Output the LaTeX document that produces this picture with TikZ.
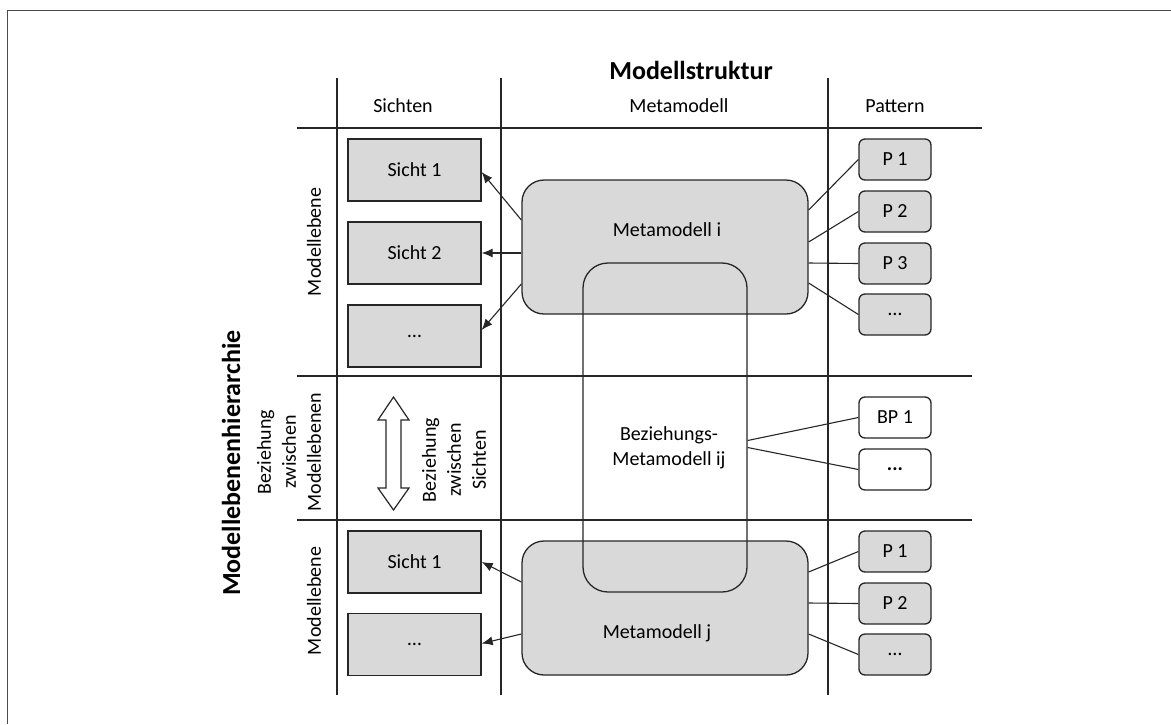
\documentclass[tikz,border=0pt]{standalone}
\usepackage{fontspec}
\setmainfont{Carlito}
\usetikzlibrary{arrows.meta,calc}
\definecolor{boxgray}{HTML}{D9D9D9}
\definecolor{edge}{HTML}{262626}
\begin{document}
\begin{tikzpicture}[x=1pt,y=-1pt,
  every node/.style={font=\fontsize{20}{25}\selectfont, inner sep=0pt, text=black},
  gridline/.style={draw=edge, line width=1.2pt},
  sicht/.style={draw=edge, fill=boxgray, line width=1.3pt, minimum width=133pt, minimum height=62pt},
  pat/.style={draw=edge, fill=boxgray, line width=1.3pt, rounded corners=6pt, minimum width=72pt, minimum height=41pt},
  bpat/.style={pat, fill=white},
  meta/.style={draw=edge, fill=boxgray, line width=1.3pt, rounded corners=22pt, minimum width=286pt, minimum height=134pt},
  conn/.style={draw=edge, line width=1.1pt},
  arr/.style={conn, -{Latex[length=11pt,width=9pt]}},
  boldlabel/.style={font=\fontsize{26}{30}\selectfont\bfseries}
]
\useasboundingbox (0,0) rectangle (1171,724);
\draw[line width=1pt, draw=black!70] (7,724) -- (7,10) -- (1171,10);

% grid
\draw[gridline] (337,78) -- (337,695);
\draw[gridline] (501,78) -- (501,695);
\draw[gridline] (828,78) -- (828,695);
\draw[gridline] (297,128) -- (982,128);
\draw[gridline] (297,376) -- (972,376);
\draw[gridline] (297,520) -- (972,520);

% headers
\node[boldlabel] (title) at (691,70) {Modellstruktur};
\node (hs) at (403,106) {Sichten};
\node (hm) at (679,106) {Metamodell};
\node (hp) at (895,106) {Pattern};

% left labels
\node[boldlabel, rotate=90] (hier) at (231,463) {Modellebenenhierarchie};
\node[rotate=90] (me1) at (314,242) {Modellebene};
\node[rotate=90] (me2) at (314,601) {Modellebene};
\node[rotate=90, align=center] (bzm) at (289,452) {Beziehung\\zwischen\\Modellebenen};

% Sichten
\node[sicht] (s1) at (414.5,170) {Sicht 1};
\node[sicht] (s2) at (414.5,253) {Sicht 2};
\node[sicht] (s3) at (414.5,336) {…};
\node[sicht] (ls1) at (414.5,562) {Sicht 1};
\node[sicht] (ls2) at (414.5,644.5) {…};

% double arrow
\draw[gridline, fill=white] (393.5,397) -- (409,420) -- (401,420) -- (401,488) -- (409,488) -- (393.5,510) -- (378,488) -- (386,488) -- (386,420) -- (378,420) -- cycle;
\node[rotate=90, align=center] (bzs) at (454,460) {Beziehung\\zwischen\\Sichten};

% Metamodelle
\node[meta] (mi) at (665,247) {};
\node (mit) at (667,230) {Metamodell i};
\node[meta] (mj) at (665,608) {};
\node (mjt) at (657,633) {Metamodell j};
\node[draw=edge, line width=1.3pt, rounded corners=25pt, minimum width=164pt, minimum height=329pt] (bm) at (665,427.5) {};
\node[align=center] (bmt) at (669,448) {Beziehungs-\\Metamodell ij};

% Pattern
\node[pat] (p1) at (895,159.5) {P 1};
\node[pat] (p2) at (895,211.5) {P 2};
\node[pat] (p3) at (895,263.5) {P 3};
\node[pat] (p4) at (895,314.5) {…};
\node[bpat] (bp1) at (895,417.5) {BP 1};
\node[bpat] (bp2) at (895,469.5) {\textbf{...}};
\node[pat] (lp1) at (895,551.5) {P 1};
\node[pat] (lp2) at (895,603.5) {P 2};
\node[pat] (lp3) at (895,654.5) {…};

% arrows to Sichten
\draw[arr] ([yshift=27pt]mi.west) -- ([yshift=-2pt]s1.east);
\draw[arr] ([yshift=-6pt]mi.west) -- (s2.east);
\draw[arr] ([yshift=-37pt]mi.west) -- ([yshift=6pt]s3.east);
\draw[arr] ([yshift=26pt]mj.west) -- (ls1.east);
\draw[arr] ([yshift=-26pt]mj.west) -- ([yshift=1pt]ls2.east);

% pattern lines
\draw[conn] ([yshift=37pt]mi.east) -- (p1.west);
\draw[conn] ([yshift=5pt]mi.east) -- (p2.west);
\draw[conn] ([yshift=-16pt]mi.east) -- (p3.west);
\draw[conn] ([yshift=-36pt]mi.east) -- (p4.west);
\draw[conn] ([yshift=-13pt]bm.east) -- (bp1.west);
\draw[conn] ([yshift=-20pt]bm.east) -- (bp2.west);
\draw[conn] ([yshift=36pt]mj.east) -- (lp1.west);
\draw[conn] ([yshift=5pt]mj.east) -- (lp2.west);
\draw[conn] ([yshift=-26pt]mj.east) -- (lp3.west);
\end{tikzpicture}
\end{document}
